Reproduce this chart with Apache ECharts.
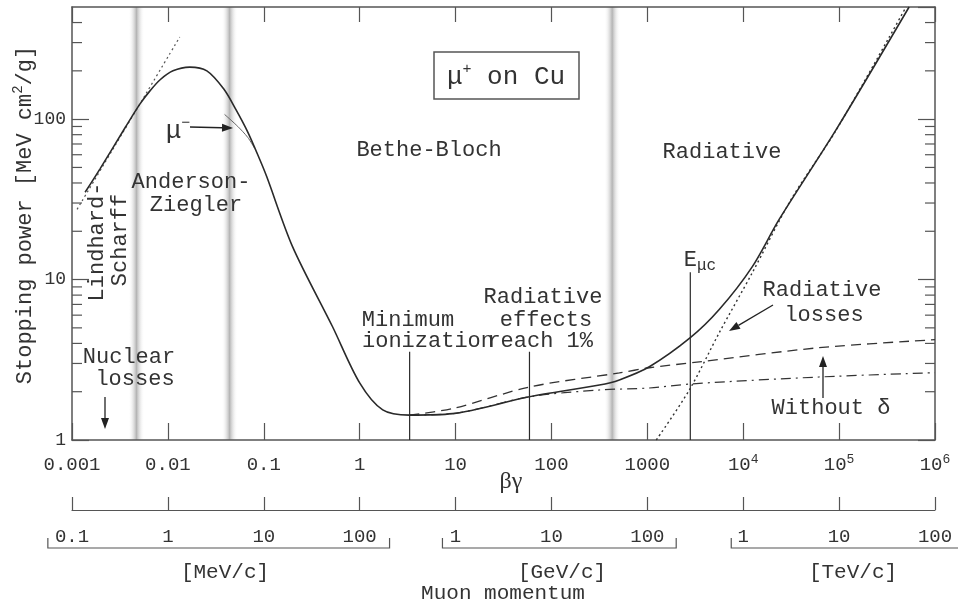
<!DOCTYPE html>
<html>
<head>
<meta charset="utf-8">
<script src="https://cdn.jsdelivr.net/npm/echarts@6/dist/echarts.min.js"></script>
<style>html,body{margin:0;padding:0;background:#fff}#chart{width:958px;height:604px}</style>
</head>
<body>
<div id="chart"></div>
<script>
// tick labels
var bgLabels = ['0.001', '0.01', '0.1', '1', '10', '100', '1000', '10{s|4}', '10{s|5}', '10{s|6}'];
var momLabels = ['0.1', '1', '10', '100', '1', '10', '100', '1', '10', '100'];
var yLabels = ['1', '10', '100'];
var yMinor = [2, 3, 4, 5, 6, 7, 8, 9, 20, 30, 40, 50, 60, 70, 80, 90, 200, 300, 400];

// curves: [beta*gamma, stopping power]
var total = [[0.00137, 35], [0.00196, 49], [0.0036, 89], [0.0051, 124], [0.0065, 150], [0.0083, 176],
  [0.0113, 200], [0.0169, 211], [0.0255, 200], [0.0383, 154], [0.0511, 115], [0.0681, 83], [0.0908, 56],
  [0.107, 44], [0.2, 16], [0.52, 5.1], [1.0, 2.27], [1.74, 1.54], [3.3, 1.43], [9.3, 1.46], [59, 1.86],
  [316, 2.2], [511, 2.37], [1050, 2.86], [2806, 4.34], [5620, 6.5], [12400, 12], [23700, 23.7],
  [93800, 86.6], [537000, 500]];
var muMinus = [[0.039, 107], [0.0536, 90], [0.068, 77], [0.08, 66]];
var lindhard = [[0.00113, 27.4], [0.0133, 325]];
var radiative = [[1240, 1], [2740, 2.05], [5620, 4.66], [12400, 11], [31600, 31.6], [93800, 86], [499000, 500]];
var noDelta = [[3.3, 1.43], [9.3, 1.57], [59, 2.14], [511, 2.62], [1050, 2.82], [3480, 3.07], [61600, 3.76], [1e6, 4.22]];
var ionization = [[3.3, 1.43], [9.3, 1.46], [59, 1.86], [316, 2.05], [1050, 2.11], [2950, 2.24], [61600, 2.47], [1e6, 2.63]];

// vertical markers [beta*gamma, top]
var markers = [[3.32, 3.55], [59, 3.55], [2806, 11.1]];
// shaded boundaries between regimes
var bands = [0.0047, 0.044, 430];

var MONO = '"Liberation Mono", "DejaVu Sans Mono", monospace';
var INK = '#2a2a2a';

var chart = echarts.init(document.getElementById('chart'));

function decade(v) { return Math.round(Math.log(v) / Math.LN10); }

function lineSeries(data, type, width, color, z) {
  return {
    type: 'line', data: data, symbol: 'none', smooth: 0.3, z: z || 3, silent: true,
    lineStyle: { type: type, width: width, color: color || INK }
  };
}

var series = [
  {
    type: 'custom', z: 0, silent: true,
    data: bands.map(function (v) { return [v, 1]; }),
    renderItem: function (params, api) {
      var b = api.coord([api.value(0), 1]);
      var t = api.coord([api.value(0), 500]);
      return {
        type: 'rect',
        shape: { x: b[0] - 8, y: t[1], width: 16, height: b[1] - t[1] },
        style: {
          fill: new echarts.graphic.LinearGradient(0, 0, 1, 0, [
            { offset: 0, color: 'rgba(255,255,255,0)' },
            { offset: 0.5, color: '#b4b4b4' },
            { offset: 1, color: 'rgba(255,255,255,0)' }
          ])
        }
      };
    }
  },
  {
    type: 'custom', z: 4, silent: true,
    data: yMinor.map(function (v) { return [0.001, v]; }),
    renderItem: function (params, api) {
      var l = api.coord([0.001, api.value(1)]);
      var r = api.coord([1e6, api.value(1)]);
      return {
        type: 'group', children: [
          { type: 'line', shape: { x1: l[0], y1: l[1], x2: l[0] + 10, y2: l[1] }, style: { stroke: '#555', lineWidth: 1.2 } },
          { type: 'line', shape: { x1: r[0] - 10, y1: r[1], x2: r[0], y2: r[1] }, style: { stroke: '#555', lineWidth: 1.2 } }
        ]
      };
    }
  },
  lineSeries(ionization, [10, 5, 2, 5], 1.2, '#333', 2),
  lineSeries(noDelta, [10, 6], 1.3, '#333', 2),
  lineSeries(radiative, [2, 3], 1.4, '#333', 2),
  lineSeries(lindhard, [2, 3], 1.2, '#555', 2),
  lineSeries(muMinus, 'solid', 1, '#666', 2),
  lineSeries(total, 'solid', 1.6, INK, 3)
];
markers.forEach(function (m) {
  series.push({
    type: 'line', data: [[m[0], 1], [m[0], m[1]]], symbol: 'none', silent: true, z: 3,
    lineStyle: { width: 1.2, color: INK }
  });
});

var axisLine = { show: true, lineStyle: { color: '#555', width: 1.5 } };

chart.setOption({
  animation: false,
  backgroundColor: '#fff',
  grid: { left: 72, right: 23, top: 7, bottom: 164 },
  xAxis: [
    {
      type: 'log', min: 0.001, max: 1e6, position: 'bottom',
      axisLine: axisLine, splitLine: { show: false },
      axisTick: { inside: true, length: 17, lineStyle: { color: '#555', width: 1.2 } },
      axisLabel: {
        margin: 13, color: '#333', fontFamily: MONO, fontSize: 19, lineHeight: 24,
        formatter: function (v) { return bgLabels[decade(v) + 3] || ''; },
        rich: { s: { fontFamily: MONO, fontSize: 13, verticalAlign: 'top', lineHeight: 24, color: '#333' } }
      }
    },
    {
      type: 'log', min: 0.001, max: 1e6, position: 'top',
      axisLine: axisLine, splitLine: { show: false },
      axisTick: { inside: true, length: 15, lineStyle: { color: '#555', width: 1.2 } },
      axisLabel: { show: false }
    },
    {
      type: 'log', min: 0.001, max: 1e6, position: 'bottom', offset: 70,
      axisLine: { show: true, lineStyle: { color: '#555', width: 1.2 } }, splitLine: { show: false },
      axisTick: { inside: true, length: 13, lineStyle: { color: '#555', width: 1.2 } },
      axisLabel: {
        margin: 17, color: '#333', fontFamily: MONO, fontSize: 19,
        formatter: function (v) { return momLabels[decade(v) + 3] || ''; }
      }
    }
  ],
  yAxis: [
    {
      type: 'log', min: 1, max: 500, position: 'left',
      axisLine: axisLine, splitLine: { show: false },
      axisTick: { inside: true, length: 17, lineStyle: { color: '#555', width: 1.2 } },
      axisLabel: {
        margin: 6, color: '#333', fontFamily: MONO, fontSize: 18, showMaxLabel: false,
        formatter: function (v) {
          var d = decade(v);
          return Math.abs(Math.pow(10, d) - v) < 1e-6 * v ? (yLabels[d] || '') : '';
        }
      }
    },
    {
      type: 'log', min: 1, max: 500, position: 'right',
      axisLine: axisLine, splitLine: { show: false },
      axisTick: { inside: true, length: 17, lineStyle: { color: '#555', width: 1.2 } },
      axisLabel: { show: false }
    }
  ],
  series: series
});

// annotations
function txt(s, x, y, size, opts) {
  var el = {
    type: 'text', x: x, y: y, z: 20, silent: true,
    style: { text: s, fontFamily: MONO, fontSize: size, fill: '#333', align: 'center', verticalAlign: 'middle' }
  };
  if (opts) {
    if (opts.rotation) el.rotation = opts.rotation;
    if (opts.rich) el.style.rich = opts.rich;
    if (opts.align) el.style.align = opts.align;
    if (opts.fontFamily) el.style.fontFamily = opts.fontFamily;
  }
  return el;
}

function arrow(x1, y1, x2, y2) {
  var dx = x2 - x1, dy = y2 - y1, L = Math.sqrt(dx * dx + dy * dy);
  var ux = dx / L, uy = dy / L, h = 11, w = 4;
  var bx = x2 - ux * h, by = y2 - uy * h;
  return [
    { type: 'line', z: 20, silent: true, shape: { x1: x1, y1: y1, x2: bx, y2: by }, style: { stroke: '#222', lineWidth: 1.3 } },
    { type: 'polygon', z: 20, silent: true, shape: { points: [[x2, y2], [bx - uy * w, by + ux * w], [bx + uy * w, by - ux * w]] }, style: { fill: '#222' } }
  ];
}

function bracket(from, to, y) {
  var a = chart.convertToPixel({ xAxisIndex: 0 }, from);
  var b = chart.convertToPixel({ xAxisIndex: 0 }, to);
  return {
    type: 'polyline', z: 20, silent: true,
    shape: { points: [[a, y - 10], [a, y], [b, y], [b, y - 10]] },
    style: { stroke: '#555', lineWidth: 1.2, fill: null }
  };
}

var g = [];
g.push({ type: 'rect', z: 20, silent: true, shape: { x: 434, y: 52, width: 145, height: 47 }, style: { fill: '#fff', stroke: '#555', lineWidth: 1.5 } });
g.push(txt('{m|μ}{p|+}{m| on Cu}', 506, 77, 26, {
  rich: {
    m: { fontFamily: MONO, fontSize: 26, lineHeight: 30, color: '#333' },
    p: { fontFamily: MONO, fontSize: 15, lineHeight: 30, verticalAlign: 'top', color: '#333' }
  }
}));
g.push(txt('Bethe-Bloch', 429, 150, 22));
g.push(txt('Radiative', 722, 152, 22));
g.push(txt('Anderson-', 191, 182, 22));
g.push(txt('Ziegler', 196, 205, 22));
g.push(txt('{m|μ}{p|−}', 178, 131, 26, {
  rich: {
    m: { fontFamily: MONO, fontSize: 26, lineHeight: 30, color: '#333' },
    p: { fontFamily: MONO, fontSize: 15, lineHeight: 30, verticalAlign: 'top', color: '#333' }
  }
}));
g = g.concat(arrow(190, 127, 233, 128));
g.push(txt('Lindhard-', 97, 242, 22, { rotation: Math.PI / 2 }));
g.push(txt('Scharff', 120, 240, 22, { rotation: Math.PI / 2 }));
g.push(txt('Nuclear', 129, 357, 22));
g.push(txt('losses', 135, 379, 22));
g = g.concat(arrow(105, 397, 105, 429));
g.push(txt('Minimum', 408, 320, 22));
g.push(txt('ionization', 362, 341, 22, { align: 'left' }));
g.push(txt('Radiative', 543, 297, 22));
g.push(txt('effects', 546, 320, 22));
g.push(txt('reach 1%', 593, 341, 22, { align: 'right' }));
g.push(txt('{e|E}{s|μc}', 700, 260, 22, {
  rich: {
    e: { fontFamily: MONO, fontSize: 22, lineHeight: 28, color: '#333' },
    s: { fontFamily: MONO, fontSize: 16, lineHeight: 28, verticalAlign: 'bottom', color: '#333' }
  }
}));
g.push(txt('Radiative', 822, 290, 22));
g.push(txt('losses', 824, 315, 22));
g = g.concat(arrow(773, 305, 729, 331));
g.push(txt('Without δ', 831, 408, 22));
g = g.concat(arrow(823, 398, 823, 356));
g.push(txt('βγ', 511, 482, 24, { fontFamily: '"Liberation Serif", "DejaVu Serif", serif' }));
g.push(txt('{a|Stopping power [MeV cm}{s|2}{a|/g]}', 25, 215, 22, {
  rotation: Math.PI / 2,
  rich: {
    a: { fontFamily: MONO, fontSize: 22, lineHeight: 28, color: '#333' },
    s: { fontFamily: MONO, fontSize: 14, lineHeight: 28, verticalAlign: 'top', color: '#333' }
  }
}));
g.push(bracket(5.6e-4, 2.05, 548));
g.push(bracket(7.3, 2000, 548));
g.push(bracket(7500, 2e6, 548));
g.push(txt('[MeV/c]', 225, 572, 21));
g.push(txt('[GeV/c]', 562, 572, 21));
g.push(txt('[TeV/c]', 853, 572, 21));
g.push(txt('Muon momentum', 503, 593, 21));

chart.setOption({ graphic: g });
</script>
</body>
</html>
